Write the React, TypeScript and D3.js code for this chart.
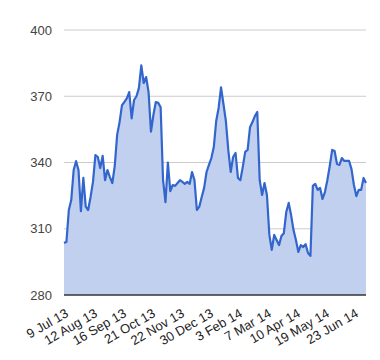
import * as d3 from "d3";

// closing values, sampled every second trading day (Jul 2013 - Jul 2014)
const prices = [
  303.6, 304, 318.5, 323, 336.6, 340.6, 336.6, 318, 333, 320,
  318.5, 324.4, 331.2, 343.4, 342.5, 337.5, 343, 332, 336.6, 333.4,
  330.7, 338.4, 352.5, 358.3, 366, 367.4, 369, 371.9, 360, 368.3,
  370, 373.7, 384, 376, 378.7, 371.9, 354, 361.5, 367.4, 367,
  365, 332, 322, 340, 327, 329.8, 329.4, 330.7, 332, 331.2,
  330.3, 331.2, 330.3, 335.7, 332, 318.5, 320, 324.4, 328.5, 335.7,
  338.9, 342, 347, 358.8, 364.7, 374, 366.5, 358.8, 345.7, 335.7,
  342.5, 344.3, 333, 332, 338, 344.8, 345.7, 356, 358.3, 361,
  362.9, 332, 325.3, 330.7, 325.3, 307.2, 300.4, 307.2, 304.9, 302.6,
  306.7, 308, 317.6, 321.7, 316.2, 309.4, 304.9, 299.5, 302.6, 301.7,
  303, 299, 297.7, 329.4, 330.3, 327.6, 328.5, 323.5, 326.6, 332,
  338.4, 345.7, 345.2, 339.3, 338.9, 342, 340.7, 340.7, 340.7, 337,
  329.8, 324.8, 327.6, 327.6, 333, 330.7,
];

const dateLabels = [
  "9 Jul 13", "12 Aug 13", "16 Sep 13", "21 Oct 13", "22 Nov 13", "30 Dec 13",
  "3 Feb 14", "7 Mar 14", "10 Apr 14", "19 May 14", "23 Jun 14",
];
const labelStep = 12; // one label every 12 samples
const yTicks = [280, 310, 340, 370, 400];

const W = 380;
const H = 360;
const margin = { top: 30, right: 14, bottom: 65, left: 64 };

export default function App() {
  const x = d3
    .scaleLinear()
    .domain([0, prices.length - 1])
    .range([margin.left, W - margin.right]);
  const y = d3
    .scaleLinear()
    .domain([280, 400])
    .range([H - margin.bottom, margin.top]);

  const area = d3
    .area<number>()
    .x((_, i) => x(i))
    .y0(y(280))
    .y1((d) => y(d));
  const line = d3
    .line<number>()
    .x((_, i) => x(i))
    .y((d) => y(d));

  const font = "Arial, 'Liberation Sans', sans-serif";

  return (
    <svg
      width={W}
      height={H}
      style={{ position: "absolute", left: 0, top: 0, background: "#fff" }}
    >
      {yTicks.map((t) => (
        <g key={t}>
          {t !== 280 && (
            <line
              x1={margin.left}
              x2={W - margin.right}
              y1={y(t)}
              y2={y(t)}
              stroke="#cccccc"
              strokeWidth={1}
            />
          )}
          <text
            x={margin.left - 12}
            y={y(t)}
            dy="0.35em"
            textAnchor="end"
            fontFamily={font}
            fontSize={13}
            fill="#444"
          >
            {t}
          </text>
        </g>
      ))}
      <path d={area(prices) ?? ""} fill="#c1d0ef" />
      <path
        d={line(prices) ?? ""}
        fill="none"
        stroke="#3366cc"
        strokeWidth={2.2}
        strokeLinejoin="round"
      />
      <line
        x1={margin.left}
        x2={W - margin.right}
        y1={y(280)}
        y2={y(280)}
        stroke="#333"
        strokeWidth={1.5}
      />
      {dateLabels.map((lab, k) => {
        const px = x(k * labelStep);
        const py = y(280) + 17;
        return (
          <text
            key={lab}
            transform={`translate(${px + 3},${py}) rotate(-30)`}
            dy="0.35em"
            textAnchor="end"
            fontFamily={font}
            fontSize={13}
            fill="#222"
          >
            {lab}
          </text>
        );
      })}
    </svg>
  );
}
